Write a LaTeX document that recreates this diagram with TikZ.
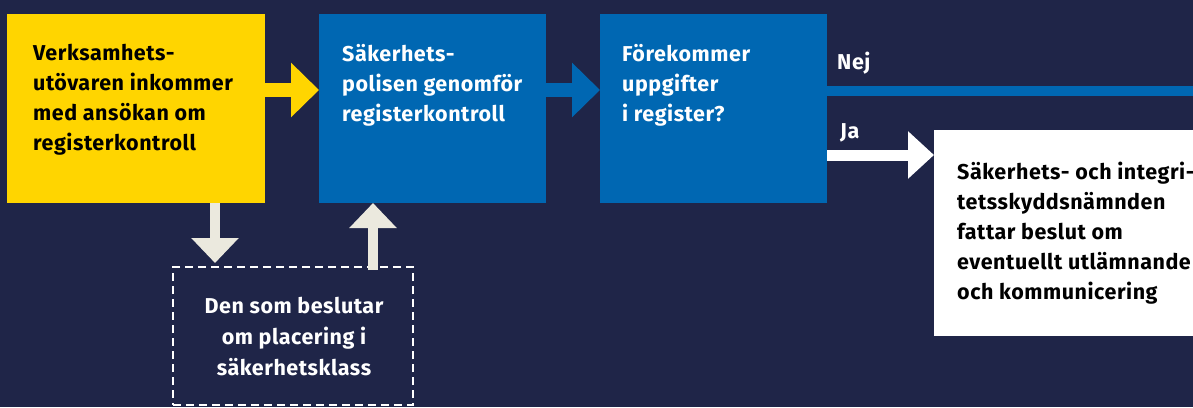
\documentclass[tikz,border=0pt]{standalone}
\usepackage{fontspec}
\setmainfont{Fira Sans}[LetterSpace=2.5]
\usetikzlibrary{arrows.meta}
\definecolor{navy}{HTML}{1F2548}
\definecolor{ylw}{HTML}{FFD500}
\definecolor{blu}{HTML}{0067B2}
\definecolor{cream}{HTML}{EBE9DE}
\tikzset{
  box/.style={anchor=north west, inner sep=0pt, outer sep=0pt},
  txt/.style={anchor=north west, inner sep=0pt, align=left, font=\bfseries\fontsize{21.5}{30}\selectfont},
  ctxt/.style={anchor=north, inner sep=0pt, align=center, font=\bfseries\fontsize{21.5}{31}\selectfont, text=white},
  lbl/.style={inner sep=0pt, font=\bfseries\fontsize{21.5}{22}\selectfont, text=white},
  harrow/.style={line width=14pt, -{Triangle[width=53pt,length=28pt]}},
  varrow/.style={line width=10pt, cream, -{Triangle[width=46pt,length=25pt]}},
}
\begin{document}
\begin{tikzpicture}[x=1pt,y=-1pt]
\fill[navy] (0,0) rectangle (1193,407);
\useasboundingbox (0,0) rectangle (1193,407);
% boxes
\node[box, fill=ylw, minimum width=258pt, minimum height=189pt] (yb) at (7,14) {};
\node[box, fill=blu, minimum width=227pt, minimum height=189pt] (b1) at (319,14) {};
\node[box, fill=blu, minimum width=227pt, minimum height=189pt] (b2) at (600,14) {};
\node[box, fill=white, minimum width=259pt, minimum height=206pt] (wb) at (934,130) {};
\node[box, draw=white, dash pattern=on 8pt off 5pt, line width=2.5pt, minimum width=240pt, minimum height=138pt] (db) at (173,267) {};
% texts
\node[txt, text=black] (t1) at (33,44) {Verksamhets-\\utövaren inkommer\\med ansökan om\\registerkontroll};
\node[txt, text=white] (t2) at (342,44) {Säkerhets-\\polisen genomför\\registerkontroll};
\node[txt, text=white] (t3) at (622,44) {Förekommer\\uppgifter\\i register?};
\node[txt, text=black] (t4) at (957,162) {Säkerhets- och integri-\\tetsskyddsnämnden\\fattar beslut om\\eventuellt utlämnande\\och kommunicering};
\node[ctxt] (t5) at (294,297) {Den som beslutar\\om placering i\\säkerhetsklass};
% arrows
\draw[harrow, ylw] ([yshift=18.5pt]yb.east) -- ([yshift=18.5pt]b1.west);
\draw[harrow, blu] ([yshift=18.5pt]b1.east) -- ([yshift=18.5pt]b2.west);
\coordinate (nejend) at (1193,91);
\draw[blu, line width=10pt] (b2.east |- nejend) -- (nejend);
\node[lbl, anchor=west] (nej) at (837,63) {Nej};
\draw[line width=11pt, white, -{Triangle[width=46pt,length=26pt]}] ([yshift=-46.5pt]b2.east) -- ([yshift=-46.5pt]b2.east -| wb.west);
\node[lbl, anchor=west] (ja) at (840,133) {Ja};
\draw[varrow] ([xshift=79pt]yb.south) -- ([xshift=-78pt,yshift=4pt]db.north);
\draw[varrow] ([xshift=80pt,yshift=-3pt]db.north) -- ([xshift=80pt]db.north |- b1.south);
\end{tikzpicture}
\end{document}
